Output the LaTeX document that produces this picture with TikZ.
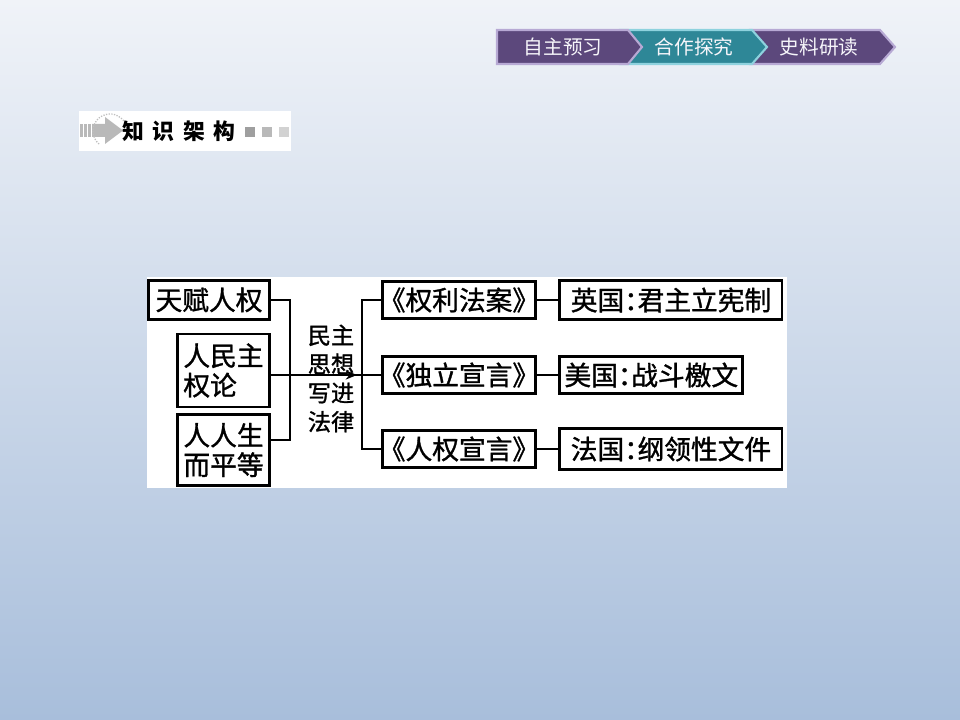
\documentclass[tikz,border=0pt]{standalone}
\usepackage{fontspec}
\newfontfamily\cjk[RawFeature=+halt]{Noto Sans CJK SC}
\newfontfamily\cjkbox[RawFeature=+halt, FakeBold=1.2]{Noto Sans CJK SC}
\usepackage{tikz}
\usetikzlibrary{positioning,arrows.meta,decorations.markings}

\definecolor{bgtop}{HTML}{F0F3F8}
\definecolor{bgmid}{HTML}{CFDBEC}
\definecolor{bgbot}{HTML}{A8BEDB}
\definecolor{tabpurple}{HTML}{5C487C}
\definecolor{tabteal}{HTML}{2E8797}
\definecolor{tabedge}{HTML}{B7A9D4}
\definecolor{tabtealedge}{HTML}{8ED2DE}

\begin{document}
\begin{tikzpicture}[
    x=0.025cm, y=-0.025cm,
    box/.style={rectangle, draw=black, line width=2pt, fill=white, inner sep=1pt, align=left, font=\cjkbox\fontsize{19}{21}\selectfont},
    link/.style={line width=2pt, black},
    tab/.style={line width=1.5pt},
    tabtext/.style={font=\cjk\fontsize{14}{16}\selectfont, text=white!88!tabedge},
    mid arrow/.style={postaction={decorate}, decoration={markings, mark=at position #1 with {\arrow{Stealth[length=8pt,width=6.5pt]}}}},
]
    \useasboundingbox (0,0) rectangle (960,720);
    \shade[top color=bgtop, middle color=bgmid, bottom color=bgbot] (0,0) rectangle (960,720);

    % Tabs
    \filldraw[tab, fill=tabpurple, draw=tabedge] (750,30) -- (880,30) -- (895,47) -- (880,64) -- (750,64) -- cycle;
    \filldraw[tab, fill=tabteal, draw=tabtealedge] (620,30) -- (752,30) -- (767,47) -- (752,64) -- (620,64) -- cycle;
    \filldraw[tab, fill=tabpurple, draw=tabedge] (497,30) -- (628,30) -- (642,47) -- (628,64) -- (497,64) -- cycle;
    \node[tabtext] (preview) at (563,47) {自主预习};
    \node[tabtext] (explore) at (694,47) {合作探究};
    \node[tabtext] (sources) at (819,47) {史料研读};

    % Heading
    \fill[white] (79,111) rectangle (291,151);
    \foreach \x in {80,84,88} \fill[gray!55] (\x,124) rectangle ++(2.5,13);
    \fill[gray!55] (92,124) -- (105,124) -- (105,117) -- (123,130.5) -- (105,144) -- (105,137) -- (92,137) -- cycle;
    \draw[gray!50, densely dotted, line width=0.9pt] (110,131) ++(130:17) arc[start angle=130, end angle=400, radius=17];
    \node[font=\cjk\bfseries\fontsize{15.5}{17}\selectfont] (heading) at (179,131) {知\hspace{6pt}识\hspace{6pt}架\hspace{6pt}构};
    \fill[gray!75] (245,127) rectangle (255,137);
    \fill[gray!55] (262,127) rectangle (272,137);
    \fill[gray!35] (279,127) rectangle (289,137);

    % Chart panel
    \fill[white] (147,277) rectangle (787,488);

    % Ideas
    \node[box, minimum width=86pt, minimum height=27.5pt, align=center] (tianfu) at (209,300) {天赋人权};
    \node[box, minimum width=65pt, minimum height=52pt] (renmin) at (223.5,370.5) {人民主\\权论};
    \node[box, minimum width=65pt, minimum height=51pt] (renren) at (223.5,450) {人人生\\而平等};
    \node[font=\cjkbox\fontsize{16.5}{20.5}\selectfont, align=center] (written) at (331,378.5) {民主\\思想\\写进\\法律};

    % Documents
    \node[box, minimum width=108.5pt, minimum height=26pt, align=center] (bill) at (459,300) {《权利法案》};
    \node[box, minimum width=108.5pt, minimum height=26pt, align=center] (indep) at (459,375) {《独立宣言》};
    \node[box, minimum width=108.5pt, minimum height=26pt, align=center] (rights) at (459,449) {《人权宣言》};
    \node[box, minimum width=158pt, minimum height=27.5pt, right=15.5pt of bill] (england) {英国：君主立宪制};
    \node[box, minimum width=130pt, minimum height=26pt, right=15.5pt of indep] (america) {美国：战斗檄文};
    \node[box, minimum width=158pt, minimum height=29pt, right=15.5pt of rights] (france) {法国：纲领性文件};

    % Connectors
    \coordinate (jlbot) at (290,440);
    \coordinate (jr) at (362,375);
    \draw[link] (tianfu.east) -| (jlbot) -- (renren.east |- jlbot);
    \draw[link, mid arrow=0.78] (renmin.east |- indep) -- (indep.west);
    \draw[link] (bill.west) -| (jr) |- (rights.west);
    \draw[link] (bill) -- (england);
    \draw[link] (indep) -- (america);
    \draw[link] (rights) -- (france);
\end{tikzpicture}
\end{document}
